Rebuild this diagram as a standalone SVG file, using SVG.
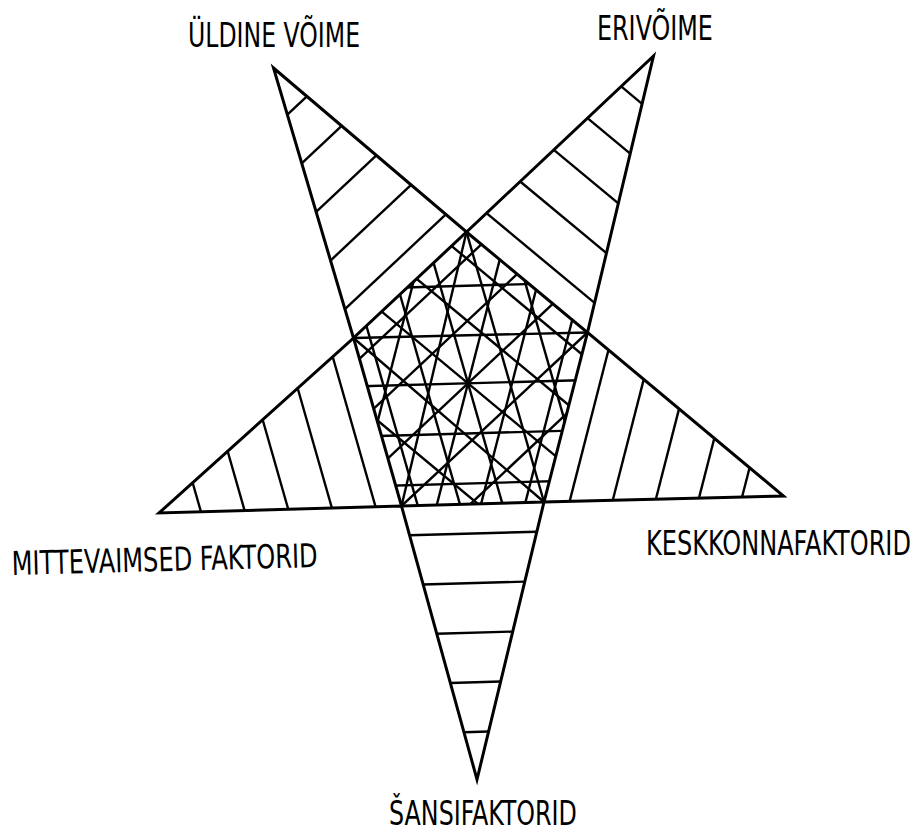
<svg xmlns="http://www.w3.org/2000/svg" width="921" height="833" viewBox="0 0 921 833">
<style>
.edge{fill:none;stroke:#000;stroke-width:3;stroke-linejoin:miter;stroke-miterlimit:10}
.hatch line{stroke:#000;stroke-width:2.4;stroke-linecap:butt}
.label{font-family:'DejaVu Sans Condensed','Liberation Sans Narrow','DejaVu Sans',sans-serif;font-stretch:condensed;font-size:33px;fill:#000}
</style>
<defs>
<clipPath id="pent"><polygon points="466.5,232 587.5,332.5 544,502 401.5,506 353.5,338"/></clipPath>
</defs>
<rect width="921" height="833" fill="#fff"/>

<g id="arm-uldine-voime">
<g class="hatch">
<line x1="287.34" y1="114.71" x2="306.89" y2="96.37"/>
<line x1="301.74" y1="163.31" x2="341.63" y2="125.89"/>
<line x1="316.14" y1="211.91" x2="376.37" y2="155.41"/>
<line x1="330.54" y1="260.51" x2="411.11" y2="184.93"/>
<line x1="344.94" y1="309.11" x2="445.85" y2="214.45"/>
<g clip-path="url(#pent)">
<line x1="201.63" y1="506.80" x2="639.21" y2="96.32"/>
<line x1="226.66" y1="546.59" x2="664.24" y2="136.11"/>
<line x1="249.21" y1="588.54" x2="686.79" y2="178.06"/>
<line x1="401.5" y1="506" x2="587.5" y2="332.5"/>
<line x1="300.27" y1="663.62" x2="737.85" y2="253.14"/>
</g>
</g>
<text class="label" transform="translate(188 47) scale(0.72 1)" textLength="239" lengthAdjust="spacingAndGlyphs">ÜLDINE VÕIME</text>
</g>

<g id="arm-erivoime">
<g class="hatch">
<line x1="621.15" y1="86.45" x2="642.08" y2="103.83"/>
<line x1="587.49" y1="118.13" x2="630.20" y2="153.60"/>
<line x1="553.83" y1="149.81" x2="618.32" y2="203.37"/>
<line x1="520.17" y1="181.49" x2="606.44" y2="253.14"/>
<line x1="486.51" y1="213.17" x2="594.56" y2="302.91"/>
<g clip-path="url(#pent)">
<line x1="286.14" y1="108.59" x2="747.70" y2="491.97"/>
<line x1="262.53" y1="150.81" x2="724.09" y2="534.19"/>
<line x1="237.22" y1="191.61" x2="698.78" y2="574.99"/>
<line x1="353.5" y1="338" x2="544" y2="502"/>
<line x1="196.03" y1="269.75" x2="657.59" y2="653.13"/>
</g>
</g>
<text class="label" transform="translate(597 40) scale(0.72 1)" textLength="161" lengthAdjust="spacingAndGlyphs">ERIVÕIME</text>
</g>

<g id="arm-keskkonnafaktorid">
<g class="hatch">
<line x1="749.59" y1="467.71" x2="742.07" y2="497.04"/>
<line x1="714.31" y1="438.28" x2="698.96" y2="498.12"/>
<line x1="679.03" y1="408.85" x2="655.85" y2="499.20"/>
<line x1="643.75" y1="379.42" x2="612.74" y2="500.28"/>
<line x1="608.47" y1="349.99" x2="569.63" y2="501.36"/>
<g clip-path="url(#pent)">
<line x1="623.40" y1="120.56" x2="474.26" y2="701.70"/>
<line x1="583.20" y1="106.02" x2="434.06" y2="687.16"/>
<line x1="542.57" y1="92.73" x2="393.43" y2="673.87"/>
<line x1="466.5" y1="232" x2="401.5" y2="506"/>
<line x1="469.17" y1="64.78" x2="320.03" y2="645.92"/>
</g>
</g>
<text class="label" transform="translate(646 555) scale(0.72 1)" textLength="368" lengthAdjust="spacingAndGlyphs">KESKKONNAFAKTORID</text>
</g>

<g id="arm-sansifaktorid">
<g class="hatch">
<line x1="463.94" y1="732.18" x2="488.59" y2="731.49"/>
<line x1="450.35" y1="682.95" x2="500.65" y2="681.54"/>
<line x1="436.76" y1="633.72" x2="512.71" y2="631.59"/>
<line x1="423.17" y1="584.49" x2="524.77" y2="581.64"/>
<line x1="409.58" y1="535.26" x2="536.83" y2="531.69"/>
<g clip-path="url(#pent)">
<line x1="172.56" y1="491.84" x2="772.30" y2="475.00"/>
<line x1="171.79" y1="441.81" x2="771.53" y2="424.97"/>
<line x1="168.13" y1="391.72" x2="767.87" y2="374.88"/>
<line x1="353.5" y1="338" x2="587.5" y2="332.5"/>
<line x1="169.51" y1="294.09" x2="769.25" y2="277.25"/>
</g>
</g>
<text class="label" transform="translate(389 825) scale(0.72 1)" textLength="261" lengthAdjust="spacingAndGlyphs">ŠANSIFAKTORID</text>
</g>

<g id="arm-mittevaimsed-faktorid">
<g class="hatch">
<line x1="192.65" y1="482.72" x2="200.95" y2="511.79"/>
<line x1="227.66" y1="451.22" x2="244.60" y2="510.53"/>
<line x1="262.67" y1="419.72" x2="288.25" y2="509.27"/>
<line x1="297.68" y1="388.22" x2="331.90" y2="508.01"/>
<line x1="332.69" y1="356.72" x2="375.55" y2="506.75"/>
<g clip-path="url(#pent)">
<line x1="309.72" y1="127.44" x2="474.56" y2="704.36"/>
<line x1="347.74" y1="111.61" x2="512.58" y2="688.53"/>
<line x1="385.58" y1="94.84" x2="550.42" y2="671.76"/>
<line x1="466.5" y1="232" x2="544" y2="502"/>
<line x1="462.67" y1="63.74" x2="627.51" y2="640.66"/>
</g>
</g>
<text class="label" transform="translate(12 575) rotate(-1.5) scale(0.72 1)" textLength="425" lengthAdjust="spacingAndGlyphs">MITTEVAIMSED FAKTORID</text>
</g>

<g id="outline">
<polygon class="edge" points="273.5,68 466.5,232 653.5,56 587.5,332.5 783.5,496 544,502 477,779.5 401.5,506 159,513 353.5,338"/>
<polygon class="edge" points="466.5,232 587.5,332.5 544,502 401.5,506 353.5,338"/>
</g>
</svg>
